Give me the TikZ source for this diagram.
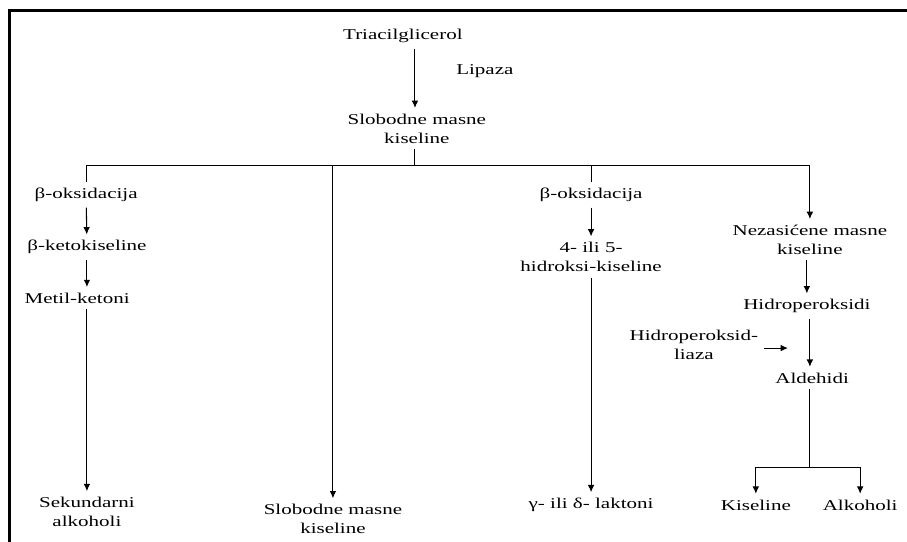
\documentclass[tikz,border=0pt]{standalone}
\usepackage{fontspec}
\setmainfont{Liberation Serif}[FakeStretch=1.4]
\usepackage{tikz}
\usetikzlibrary{arrows.meta}

\begin{document}
\begin{tikzpicture}[>={Latex[length=5.5pt,width=5pt]}, line width=0.8pt,
    lbl/.style={align=center, inner sep=4pt, font=\fontsize{11.3}{14.2}\selectfont}]
    \useasboundingbox (0,0) rectangle (24,-14.34);
    % Draw the frame
    \draw[line width=2.3pt] (0.24,-15) -- (0.24,-0.28) -- (24.5,-0.28);
    % Draw the nodes
    \node[lbl] (tri) at (10.66,-0.95) {Triacilglicerol};
    \node[lbl] (lip) at (12.83,-1.88) {Lipaza};
    \node[lbl] (sfa) at (11.03,-3.40) {Slobodne masne\\kiseline};
    \coordinate (hub) at (10.98,-4.37);
    \node[lbl] (bo1) at (2.28,-5.16) {β-oksidacija};
    \node[lbl] (bk) at (2.30,-6.54) {β-ketokiseline};
    \node[lbl] (mk) at (2.04,-7.89) {Metil-ketoni};
    \node[lbl] (sek) at (2.30,-13.54) {Sekundarni\\alkoholi};
    \node[lbl] (sfa2) at (8.81,-13.73) {Slobodne masne\\kiseline};
    \node[lbl] (bo2) at (15.64,-5.16) {β-oksidacija};
    \node[lbl] (hks) at (15.64,-6.80) {4- ili 5-\\hidroksi-kiseline};
    \node[lbl] (lak) at (15.64,-13.36) {γ- ili δ- laktoni};
    \node[lbl] (nmk) at (21.43,-6.34) {Nezasićene masne\\kiseline};
    \node[lbl] (hp) at (21.35,-8.10) {Hidroperoksidi};
    \node[lbl] (hpl) at (18.36,-9.13) {Hidroperoksid-\\liaza};
    \coordinate (lyz) at (20.85,-9.21);
    \node[lbl] (ald) at (21.49,-10.0) {Aldehidi};
    \coordinate (split) at (21.43,-12.38);
    \node[lbl] (kis) at (20.0,-13.36) {Kiseline};
    \node[lbl] (alk) at (22.76,-13.36) {Alkoholi};
    % Draw the connectors
    \draw[->] (hub |- tri.south) -- (hub |- sfa.north);
    \draw (hub |- sfa.south) -- (hub);
    \draw (bo1) |- (hub);
    \draw (bo2) |- (hub);
    \draw[->] (hub) -| (nmk);
    \draw[->] (hub -| sfa2) -- (sfa2);
    \draw[->] (bo1) -- (bk);
    \draw[->] (bk.south) -- (bk.south |- mk.north);
    \draw[->] (mk.south -| sek) -- (sek);
    \draw[->] (bo2) -- (hks);
    \draw[->] (hks) -- (lak);
    \draw[->] (nmk.south -| hp) -- (hp);
    \draw[->] (hp.south -| split) -- (ald.north -| split);
    \draw[->] (hpl.east |- lyz) -- (lyz);
    \draw (ald.south -| split) -- (split);
    \draw[->] (split) -| (kis);
    \draw[->] (split) -| (alk);
\end{tikzpicture}
\end{document}
